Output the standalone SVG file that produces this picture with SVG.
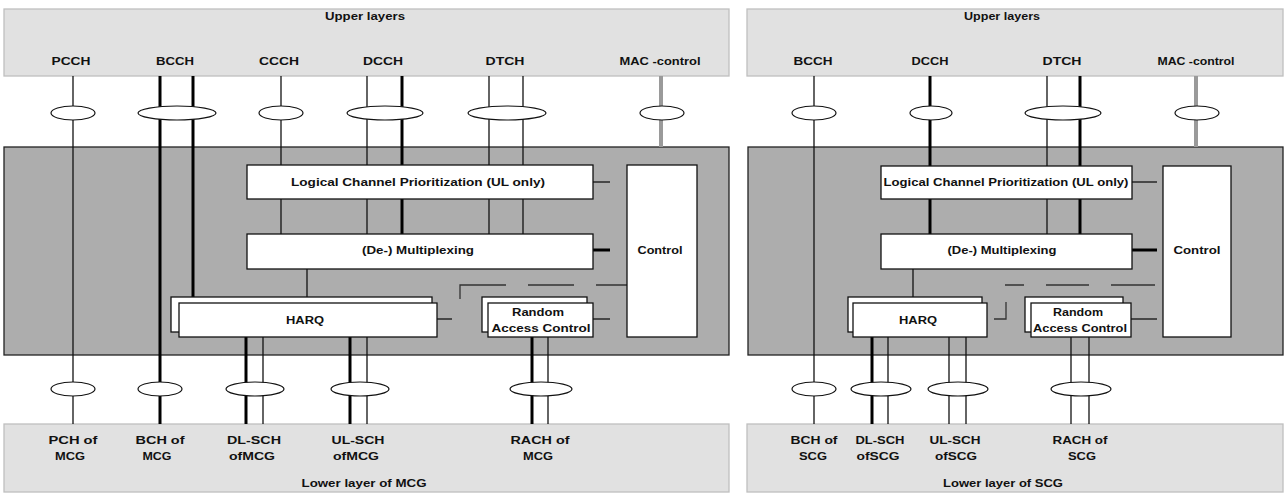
<svg xmlns="http://www.w3.org/2000/svg" width="1284" height="493" viewBox="0 0 1284 493">
<style>
.layer{fill:#e1e1e1;stroke:#bfbfbf;stroke-width:1.3}
.mac{fill:#adadad;stroke:#222;stroke-width:1.3}
.box{fill:#fff;stroke:#111;stroke-width:1.3}
.ell{fill:#fff;stroke:#111;stroke-width:1.2}
.th{stroke:#111;stroke-width:1.3;fill:none}
.tk{stroke:#000;stroke-width:3;fill:none}
.gr{stroke:#9a9a9a;stroke-width:4;fill:none}
.ds{stroke:#333;stroke-width:1.3;fill:none}
text{font-family:"Liberation Sans",Arial,sans-serif;font-weight:bold;font-size:11px;fill:#111;text-anchor:middle}
</style>
<rect width="1284" height="493" fill="#fff"/>

<!-- LEFT (MCG) -->
<g id="upper-mcg"><rect class="layer" x="4" y="9" width="725" height="67"/><text x="365" y="20" textLength="80" lengthAdjust="spacingAndGlyphs">Upper layers</text></g>
<g id="lower-mcg"><rect class="layer" x="4" y="424" width="725" height="68"/><text x="364" y="487" textLength="125" lengthAdjust="spacingAndGlyphs">Lower layer of MCG</text></g>
<g id="mac-mcg"><rect class="mac" x="4" y="147" width="725" height="208"/></g>

<g id="connectors-mcg">
<line class="th" x1="73" y1="76" x2="73" y2="424"/>
<line class="tk" x1="160" y1="76" x2="160" y2="424"/>
<line class="tk" x1="193" y1="76" x2="193" y2="297"/>
<line class="th" x1="281" y1="76" x2="281" y2="234"/>
<line class="th" x1="367" y1="76" x2="367" y2="234"/>
<line class="tk" x1="402" y1="76" x2="402" y2="234"/>
<line class="th" x1="489" y1="76" x2="489" y2="234"/>
<line class="th" x1="523" y1="76" x2="523" y2="234"/>
<line class="gr" x1="661" y1="76" x2="661" y2="147"/>
<line class="th" x1="307" y1="269" x2="307" y2="298"/>
<line class="tk" x1="246" y1="337" x2="246" y2="424"/>
<line class="th" x1="263" y1="337" x2="263" y2="424"/>
<line class="tk" x1="350" y1="337" x2="350" y2="424"/>
<line class="th" x1="367" y1="337" x2="367" y2="424"/>
<line class="tk" x1="532" y1="337" x2="532" y2="424"/>
<line class="th" x1="548" y1="337" x2="548" y2="424"/>
<line class="th" x1="593" y1="182" x2="610" y2="182"/>
<line class="tk" x1="593" y1="250" x2="610" y2="250"/>
<line class="th" x1="437" y1="319" x2="452" y2="319"/>
<line class="th" x1="593" y1="319" x2="610" y2="319"/>
<path class="ds" d="M460,299 V285 H506 M528,285 H574 M596,285 H627"/>
<ellipse class="ell" cx="73" cy="113" rx="22" ry="7"/>
<ellipse class="ell" cx="177" cy="113" rx="39" ry="7"/>
<ellipse class="ell" cx="281" cy="113" rx="22" ry="7"/>
<ellipse class="ell" cx="385" cy="113" rx="38" ry="7"/>
<ellipse class="ell" cx="507" cy="113" rx="39" ry="7"/>
<ellipse class="ell" cx="662" cy="113" rx="22" ry="7"/>
<ellipse class="ell" cx="73" cy="389" rx="22" ry="7"/>
<ellipse class="ell" cx="160" cy="389" rx="22" ry="7"/>
<ellipse class="ell" cx="255" cy="389" rx="29" ry="7"/>
<ellipse class="ell" cx="360" cy="389" rx="29" ry="7"/>
<ellipse class="ell" cx="541" cy="389" rx="31" ry="7"/>
</g>

<g id="ch-labels-mcg">
<text x="71" y="65" textLength="39" lengthAdjust="spacingAndGlyphs">PCCH</text>
<text x="175" y="65" textLength="38" lengthAdjust="spacingAndGlyphs">BCCH</text>
<text x="279" y="65" textLength="40" lengthAdjust="spacingAndGlyphs">CCCH</text>
<text x="383" y="65" textLength="40" lengthAdjust="spacingAndGlyphs">DCCH</text>
<text x="505" y="65" textLength="39" lengthAdjust="spacingAndGlyphs">DTCH</text>
<text x="660" y="65" textLength="81" lengthAdjust="spacingAndGlyphs">MAC -control</text>
<text x="73" y="444" textLength="49" lengthAdjust="spacingAndGlyphs">PCH of</text>
<text x="70" y="460" textLength="30" lengthAdjust="spacingAndGlyphs">MCG</text>
<text x="160" y="444" textLength="49" lengthAdjust="spacingAndGlyphs">BCH of</text>
<text x="157" y="460" textLength="29" lengthAdjust="spacingAndGlyphs">MCG</text>
<text x="254" y="444" textLength="54" lengthAdjust="spacingAndGlyphs">DL-SCH</text>
<text x="252" y="460" textLength="46" lengthAdjust="spacingAndGlyphs">ofMCG</text>
<text x="358" y="444" textLength="53" lengthAdjust="spacingAndGlyphs">UL-SCH</text>
<text x="356" y="460" textLength="46" lengthAdjust="spacingAndGlyphs">ofMCG</text>
<text x="540" y="444" textLength="59" lengthAdjust="spacingAndGlyphs">RACH of</text>
<text x="538" y="460" textLength="30" lengthAdjust="spacingAndGlyphs">MCG</text>
</g>

<g id="lcp-mcg"><rect class="box" x="247" y="165" width="346" height="34"/><text x="418" y="186" textLength="254" lengthAdjust="spacingAndGlyphs">Logical Channel Prioritization (UL only)</text></g>
<g id="mux-mcg"><rect class="box" x="247" y="234" width="346" height="35"/><text x="418" y="254" textLength="112" lengthAdjust="spacingAndGlyphs">(De-) Multiplexing</text></g>
<g id="control-mcg"><rect class="box" x="627" y="165" width="70" height="172"/><text x="660" y="254" textLength="45" lengthAdjust="spacingAndGlyphs">Control</text></g>
<g id="harq-mcg"><rect class="box" x="171" y="297" width="261" height="35"/><rect class="box" x="179" y="303" width="258" height="34"/><text x="305" y="324" textLength="38" lengthAdjust="spacingAndGlyphs">HARQ</text></g>
<g id="rac-mcg"><rect class="box" x="482" y="297" width="105" height="35"/><rect class="box" x="488" y="303" width="105" height="34"/><text x="538" y="316" textLength="52" lengthAdjust="spacingAndGlyphs">Random</text><text x="541" y="332" textLength="99" lengthAdjust="spacingAndGlyphs">Access Control</text></g>

<!-- RIGHT (SCG) -->
<g id="upper-scg"><rect class="layer" x="747" y="9" width="536" height="67"/><text x="1002" y="20" textLength="76" lengthAdjust="spacingAndGlyphs">Upper layers</text></g>
<g id="lower-scg"><rect class="layer" x="747" y="424" width="536" height="68"/><text x="1003" y="487" textLength="120" lengthAdjust="spacingAndGlyphs">Lower layer of SCG</text></g>
<g id="mac-scg"><rect class="mac" x="748" y="147" width="535" height="208"/></g>

<g id="connectors-scg">
<line class="th" x1="814" y1="76" x2="814" y2="424"/>
<line class="tk" x1="930" y1="76" x2="930" y2="234"/>
<line class="th" x1="1047" y1="76" x2="1047" y2="234"/>
<line class="tk" x1="1080" y1="76" x2="1080" y2="234"/>
<line class="gr" x1="1196" y1="76" x2="1196" y2="147"/>
<line class="th" x1="913" y1="269" x2="913" y2="298"/>
<line class="tk" x1="872" y1="337" x2="872" y2="424"/>
<line class="th" x1="888" y1="337" x2="888" y2="424"/>
<line class="th" x1="949" y1="337" x2="949" y2="424"/>
<line class="th" x1="966" y1="337" x2="966" y2="424"/>
<line class="th" x1="1071" y1="337" x2="1071" y2="424"/>
<line class="th" x1="1089" y1="337" x2="1089" y2="424"/>
<line class="th" x1="1132" y1="182" x2="1157" y2="182"/>
<line class="tk" x1="1132" y1="250" x2="1157" y2="250"/>
<line class="th" x1="1131" y1="319" x2="1157" y2="319"/>
<path class="ds" stroke-width="1.6" d="M994,319 H1006 V302"/>
<path class="ds" d="M1005,285 H1024 M1046,285 H1089 M1111,285 H1155"/>
<ellipse class="ell" cx="814" cy="113" rx="22" ry="7"/>
<ellipse class="ell" cx="931" cy="113" rx="21" ry="7"/>
<ellipse class="ell" cx="1063" cy="113" rx="38" ry="7"/>
<ellipse class="ell" cx="1197" cy="113" rx="22" ry="7"/>
<ellipse class="ell" cx="814" cy="389" rx="22" ry="7"/>
<ellipse class="ell" cx="881" cy="389" rx="30" ry="7"/>
<ellipse class="ell" cx="958" cy="389" rx="30" ry="7"/>
<ellipse class="ell" cx="1081" cy="389" rx="30" ry="7"/>
</g>

<g id="ch-labels-scg">
<text x="813" y="65" textLength="39" lengthAdjust="spacingAndGlyphs">BCCH</text>
<text x="930" y="65" textLength="37" lengthAdjust="spacingAndGlyphs">DCCH</text>
<text x="1062" y="65" textLength="39" lengthAdjust="spacingAndGlyphs">DTCH</text>
<text x="1196" y="65" textLength="77" lengthAdjust="spacingAndGlyphs">MAC -control</text>
<text x="814" y="444" textLength="47" lengthAdjust="spacingAndGlyphs">BCH of</text>
<text x="813" y="460" textLength="28" lengthAdjust="spacingAndGlyphs">SCG</text>
<text x="880" y="444" textLength="49" lengthAdjust="spacingAndGlyphs">DL-SCH</text>
<text x="878" y="460" textLength="43" lengthAdjust="spacingAndGlyphs">ofSCG</text>
<text x="955" y="444" textLength="51" lengthAdjust="spacingAndGlyphs">UL-SCH</text>
<text x="956" y="460" textLength="42" lengthAdjust="spacingAndGlyphs">ofSCG</text>
<text x="1080" y="444" textLength="55" lengthAdjust="spacingAndGlyphs">RACH of</text>
<text x="1082" y="460" textLength="28" lengthAdjust="spacingAndGlyphs">SCG</text>
</g>

<g id="lcp-scg"><rect class="box" x="881" y="166" width="251" height="33"/><text x="1006" y="186" textLength="245" lengthAdjust="spacingAndGlyphs">Logical Channel Prioritization (UL only)</text></g>
<g id="mux-scg"><rect class="box" x="881" y="234" width="251" height="35"/><text x="1002" y="254" textLength="109" lengthAdjust="spacingAndGlyphs">(De-) Multiplexing</text></g>
<g id="control-scg"><rect class="box" x="1163" y="166" width="68" height="171"/><text x="1197" y="254" textLength="47" lengthAdjust="spacingAndGlyphs">Control</text></g>
<g id="harq-scg"><rect class="box" x="848" y="297" width="134" height="35"/><rect class="box" x="853" y="303" width="134" height="34"/><text x="918" y="324" textLength="38" lengthAdjust="spacingAndGlyphs">HARQ</text></g>
<g id="rac-scg"><rect class="box" x="1025" y="297" width="98" height="35"/><rect class="box" x="1031" y="303" width="100" height="34"/><text x="1078" y="316" textLength="50" lengthAdjust="spacingAndGlyphs">Random</text><text x="1080" y="332" textLength="94" lengthAdjust="spacingAndGlyphs">Access Control</text></g>
</svg>
